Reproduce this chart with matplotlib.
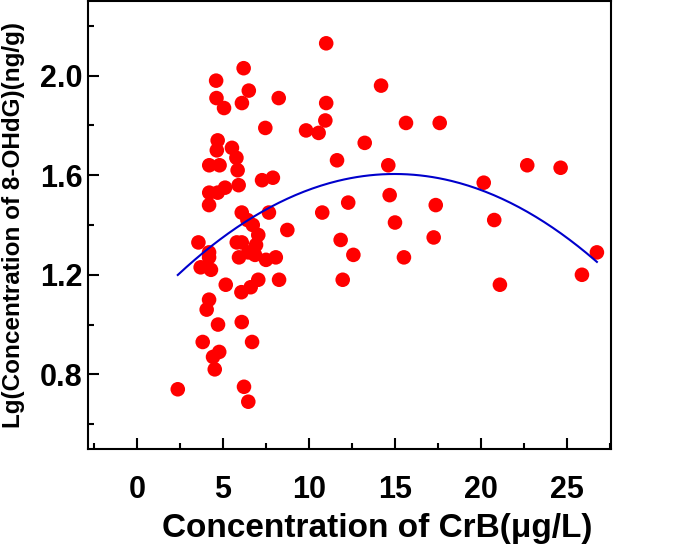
import numpy as np
import matplotlib
matplotlib.use('Agg')
import matplotlib.pyplot as plt
from matplotlib.ticker import MultipleLocator

plt.rcParams['font.family'] = ['Liberation Sans', 'DejaVu Sans']
plt.rcParams['font.weight'] = 'bold'

# CrB concentration (ug/L) and Lg(8-OHdG)
crb = [11.0, 6.2, 4.6, 6.5, 4.62, 8.24, 5.06, 6.1, 11.0, 10.95,
       7.46, 9.83, 10.56, 4.69, 4.64, 5.52, 5.78, 4.2, 4.8, 5.85,
       7.27, 7.9, 5.91, 5.12, 4.2, 4.69, 4.19, 6.09, 7.67, 10.77,
       6.42, 6.73, 7.05, 8.74, 3.57, 5.8, 6.09, 6.92, 4.19, 4.19,
       6.47, 6.86, 5.93, 7.5, 8.07, 3.7, 4.3, 5.16, 7.05, 8.26,
       6.61, 6.07, 4.19, 4.05, 4.71, 6.09, 3.82, 6.69, 4.78, 4.42,
       4.52, 2.37, 6.22, 6.47,
       14.19, 15.64, 17.6, 13.24, 11.63, 14.61, 22.69, 24.63, 20.16, 14.69,
       12.28, 17.37, 20.77, 15.0, 11.84, 17.25, 12.58, 15.52, 11.96, 21.1,
       25.87, 26.74]
lg_ohdg = [2.13, 2.03, 1.98, 1.94, 1.91, 1.91, 1.87, 1.89, 1.89, 1.82,
           1.79, 1.78, 1.77, 1.74, 1.70, 1.71, 1.67, 1.64, 1.64, 1.62,
           1.58, 1.59, 1.56, 1.55, 1.53, 1.53, 1.48, 1.45, 1.45, 1.45,
           1.42, 1.40, 1.36, 1.38, 1.33, 1.33, 1.33, 1.32, 1.29, 1.27,
           1.29, 1.28, 1.27, 1.26, 1.27, 1.23, 1.22, 1.16, 1.18, 1.18,
           1.15, 1.13, 1.10, 1.06, 1.00, 1.01, 0.93, 0.93, 0.89, 0.87,
           0.82, 0.74, 0.75, 0.69,
           1.96, 1.81, 1.81, 1.73, 1.66, 1.64, 1.64, 1.63, 1.57, 1.52,
           1.49, 1.48, 1.42, 1.41, 1.34, 1.35, 1.28, 1.27, 1.18, 1.16,
           1.20, 1.29]

x = np.array(crb)
y = np.array(lg_ohdg)

# quadratic fit as drawn in the original
coef = np.polyfit(x, y, 2)
xf = np.linspace(x.min(), x.max(), 200)
yf = np.polyval(coef, xf)

fig = plt.figure(figsize=(7, 5.55), dpi=100)
ax = fig.add_axes([88 / 700, 1 - 449 / 555, 523 / 700, 448 / 555])

ax.scatter(x, y, s=110, color='#ff0000', edgecolors='none', zorder=3)
ax.plot(xf, yf, color='#0000cc', linewidth=1.5, zorder=4)

ax.set_xlim(-2.85, 27.56)
ax.set_ylim(0.5, 2.3)
ax.xaxis.set_major_locator(MultipleLocator(5))
ax.xaxis.set_minor_locator(MultipleLocator(2.5))
ax.yaxis.set_minor_locator(MultipleLocator(0.2))
ax.set_yticks([0.8, 1.2, 1.6, 2.0])
ax.set_yticklabels(['0.8', '1.2', '1.6', '2.0'])

ax.tick_params(which='both', direction='in', top=False, right=False, width=1.5)
ax.tick_params(which='major', length=8, labelsize=22)
ax.tick_params(axis='x', which='major', pad=19)
ax.tick_params(axis='y', which='major', pad=4)
ax.tick_params(which='minor', length=4)
for s in ax.spines.values():
    s.set_linewidth(1.5)

ax.set_xlabel('Concentration of CrB(\u03bcg/L)', fontsize=24, fontweight='bold')
ax.xaxis.set_label_coords(0.553, -0.142)
ax.set_ylabel('Lg(Concentration of 8-OHdG)(ng/g)', fontsize=17.5, fontweight='bold')
ax.yaxis.set_label_coords(-0.12, 0.5)

fig.savefig('out.png', dpi=100)
